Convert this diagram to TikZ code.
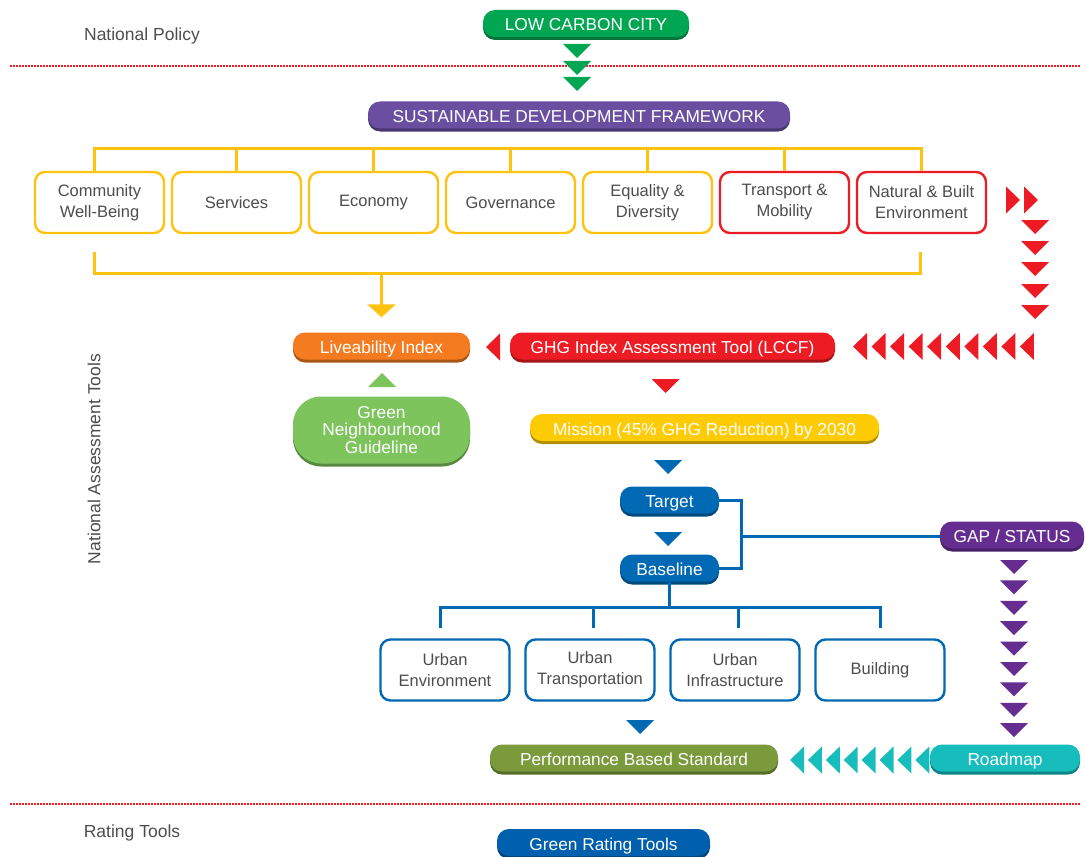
\documentclass[tikz,border=0pt]{standalone}
\usepackage{fontspec}
\setmainfont{Liberation Sans}
\usetikzlibrary{positioning,calc,shadows,arrows.meta}

\definecolor{cgreen}{HTML}{00A651}
\definecolor{cpurple}{HTML}{6A4FA0}
\definecolor{cyellow}{HTML}{FFC20E}
\definecolor{cred}{HTML}{ED1C24}
\definecolor{corange}{HTML}{F47B20}
\definecolor{clgreen}{HTML}{7DC45C}
\definecolor{cmission}{HTML}{FFCB05}
\definecolor{cblue}{HTML}{0069B4}
\definecolor{cgap}{HTML}{662D91}
\definecolor{colive}{HTML}{7A9A3C}
\definecolor{cteal}{HTML}{17BDBD}
\definecolor{cgrt}{HTML}{0060AE}
\definecolor{labgray}{HTML}{4D4D4D}

\begin{document}
\begin{tikzpicture}[x=1pt, y=-1pt,
      every node/.style={font=\fontsize{16.5}{21}\selectfont},
      lab/.style={text=labgray, font=\fontsize{17.5}{21}\selectfont},
      pillbase/.style={fill=#1, text=white,
        rounded corners=12pt,
        minimum height=27pt, inner sep=0pt,
        font=\fontsize{17.3}{21}\selectfont,
        drop shadow={shadow xshift=0pt, shadow yshift=-3pt,
          opacity=1, fill=#1!70!black},
      },
      pill/.style={pillbase=#1, text height=16pt, text depth=1pt},
      pbox/.style={draw=#1, fill=white, line width=2.4pt,
        rounded corners=10pt, text=labgray, align=center,
        minimum width=129pt, minimum height=61pt, inner sep=0pt,
      },
      ybar/.style={draw=cyellow, line width=3pt},
      bbar/.style={draw=cblue, line width=3pt},
      dotline/.style={draw=cred, line width=1.5pt,
        dash pattern=on 1.5pt off 1.5pt},
      tdown/.pic={\fill (-14,-7) -- (14,-7) -- (0,7) -- cycle;},
      tup/.pic={\fill (-14,7) -- (14,7) -- (0,-7) -- cycle;},
      tleft/.pic={\fill (7,-13.5) -- (7,13.5) -- (-7,0) -- cycle;},
      tright/.pic={\fill (-7,-13.5) -- (-7,13.5) -- (7,0) -- cycle;}
      ]
    \useasboundingbox (0,0) rectangle (1086,856);

    % side labels
    \node (natpol) [lab] at (142,36) {National Policy};
    \node (rating) [lab] at (132,833) {Rating Tools};
    \node (natass) [lab, rotate=90] at (94,459) {National Assessment Tools};

    % level separators
    \coordinate (dtl) at (10,66);
    \coordinate (dtr) at (1080,66);
    \coordinate (dbl) at (10,804);
    \coordinate (dbr) at (1080,804);
    \draw[dotline] (dtl) -- (dtr);
    \draw[dotline] (dbl) -- (dbr);

    \node (lcc) [pill=cgreen, minimum width=206pt] at (586,23.5) {LOW CARBON CITY};
    \foreach \y in {51,68,84}
      \pic[fill=cgreen] at (577,\y) {tdown};

    \node (sdf) [pill=cpurple, minimum width=422pt] at (579,115)
      {SUSTAINABLE DEVELOPMENT FRAMEWORK};

    % pillars
    \node (p1) [pbox=cyellow] at (99.5,202.5) {Community\\Well-Being};
    \node (p2) [pbox=cyellow] at (236.5,202.5) {Services};
    \node (p3) [pbox=cyellow] at (373.5,202.5) {Economy};
    \node (p4) [pbox=cyellow] at (510.5,202.5) {Governance};
    \node (p5) [pbox=cyellow] at (647.5,202.5) {Equality \&\\Diversity};
    \node (p6) [pbox=cred] at (784.5,202.5) {Transport \&\\Mobility};
    \node (p7) [pbox=cred] at (921.5,202.5) {Natural \& Built\\Environment};

    \coordinate (ytop) at (0,148);
    \coordinate (ybot) at (0,273);
    \draw[ybar] ($(p1.north)+(-5,0)$) |- (ytop -| p7.north) -- (p7.north);
    \foreach \i in {2,...,6}
      \draw[ybar] (p\i.north) -- (ytop -| p\i.north);
    \draw[ybar] ($(p1.south)+(-5,18)$) |- ($(ybot -| p7.south)+(-1,0)$)
      -- ($(p7.south)+(-1,18)$);

    \node (live) [pill=corange, minimum width=177pt] at (381.5,346) {Liveability Index};
    \draw[ybar, -{Triangle[width=28pt,length=13pt]}, shorten >=15pt]
      (ybot -| live.north) -- (live.north);

    \node (ghg) [pill=cred, minimum width=325pt] at (672.5,346)
      {GHG Index Assessment Tool (LCCF)};
    \pic[fill=cred] at (493,347) {tleft};

    % red chevrons from the two red pillars
    \foreach \x in {1013,1031}
      \pic[fill=cred] at (\x,200) {tright};
    \foreach \y in {227,248,269,291,312}
      \pic[fill=cred] at (1035,\y) {tdown};
    \foreach \i in {0,...,9}
      \pic[fill=cred] at (860+18.55*\i,346.5) {tleft};

    \node (gng) [pillbase=clgreen, rounded corners=28pt, minimum width=177pt,
      minimum height=67pt, align=center,
      font=\fontsize{17.3}{17.5}\selectfont] at (381.5,430)
      {Green\\Neighbourhood\\Guideline};
    \pic[fill=clgreen] at (382,380) {tup};

    \pic[fill=cred] at (665.5,386) {tdown};
    \node (mis) [pill=cmission, minimum width=349pt] at (704.5,427.5)
      {Mission (45\% GHG Reduction) by 2030};

    \pic[fill=cblue] at (668,467) {tdown};
    \node (tgt) [pill=cblue, minimum width=99pt] at (669.5,500) {Target};
    \pic[fill=cblue] at (668,539) {tdown};
    \node (base) [pill=cblue, minimum width=99pt] at (669.5,568) {Baseline};

    \node (gap) [pill=cgap, minimum width=144pt] at (1012,535) {GAP / STATUS};
    \coordinate (tbjoin) at (741,536);
    \draw[bbar] (tgt.east) -| (tbjoin) |- (base.east);
    \draw[bbar] (tbjoin) -- (tbjoin -| gap.west);
    \foreach \i in {0,...,8}
      \pic[fill=cgap] at (1014,567+20.4*\i) {tdown};

    % urban sectors
    \node (u1) [pbox=cblue] at (445,670) {Urban\\Environment};
    \node (u2) [pbox=cblue] at (590,670) {Urban\\Transportation};
    \node (u3) [pbox=cblue] at (735,670) {Urban\\Infrastructure};
    \node (u4) [pbox=cblue] at (880,670) {Building};

    \coordinate (bbus) at (0,607);
    \draw[bbar] (base.south) -- (bbus -| base.south);
    \draw[bbar] ($(u1.north)+(-5,-10)$) |- (bbus -| u4.north)
      -- ($(u4.north)+(0,-10)$);
    \foreach \i in {2,3}
      \draw[bbar] ($(u\i.north)+(3,-10)$) -- ($(bbus -| u\i.north)+(3,0)$);

    \pic[fill=cblue] at (640,727) {tdown};
    \node (pbs) [pill=colive, minimum width=288pt] at (634,758)
      {Performance Based Standard};
    \node (road) [pill=cteal, minimum width=150pt] at (1005,758) {Roadmap};
    \foreach \i in {0,...,7}
      \pic[fill=cteal] at (797+17.9*\i,760) {tleft};

    \node (grt) [pill=cgrt, minimum width=213pt] at (603.5,842.5) {Green Rating Tools};
  \end{tikzpicture}
\end{document}
